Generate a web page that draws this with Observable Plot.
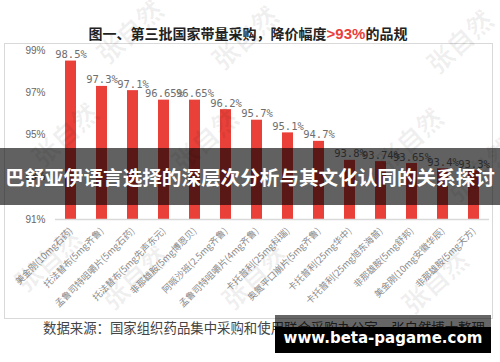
<!DOCTYPE html>
<html><head><meta charset="utf-8">
<script src="https://cdn.jsdelivr.net/npm/d3@7"></script>
<script src="https://cdn.jsdelivr.net/npm/@observablehq/plot@0.6"></script>
<style>
body{margin:0;background:#fff;}
#wrap{position:relative;width:500px;height:362px;overflow:hidden;font-family:"Noto Sans CJK SC","Noto Sans",sans-serif;}
#frame{position:absolute;left:4px;top:43px;width:487px;height:274px;border:1px solid #d9d9d9;}
#title{position:absolute;left:0;width:496px;top:23px;line-height:20px;text-align:center;font-size:14px;font-weight:bold;color:#222;white-space:nowrap;}
#title span{color:#e9403a;font-family:"Liberation Sans",sans-serif;font-size:15px;}
#chart{position:absolute;left:0;top:44px;}
#source{position:absolute;left:43px;top:317px;font-size:13.4px;line-height:20px;color:#444;white-space:nowrap;}
.wm{position:absolute;font-size:26px;font-weight:bold;color:rgba(0,0,0,0.06);transform:rotate(-42deg);white-space:nowrap;pointer-events:none;}
#banner{position:absolute;left:0;top:148px;width:500px;height:57px;background:rgba(0,0,0,0.62);color:#fff;font-weight:bold;font-size:19.6px;line-height:57px;text-align:center;white-space:nowrap;}
#siteTop{position:absolute;left:275px;top:315px;width:216px;height:12px;background:rgba(0,0,0,0.6);}
#site{position:absolute;left:275px;top:327px;width:216px;height:26px;background:#000;}
#siteText{position:absolute;left:275px;top:326px;width:216px;line-height:24px;text-align:center;color:#fff;font-family:"DejaVu Sans",sans-serif;font-weight:bold;font-size:15px;white-space:nowrap;}
</style></head><body>
<div id="wrap">
  <div id="frame"></div>
  <div id="title">图一、第三批国家带量采购，降价幅度<span>&gt;93%</span>的品规</div>
  <div id="chart"></div>
  <div id="source">数据来源：国家组织药品集中采购和使用联合采购办公室，张自然博士整理</div>
  <div class="wm" style="left:90px;top:12px;">张自然</div>
  <div class="wm" style="left:205px;top:18px;">张自然</div>
  <div class="wm" style="left:420px;top:22px;">张自然</div>
  <div class="wm" style="left:25px;top:115px;">张自然</div>
  <div class="wm" style="left:165px;top:120px;">张自然</div>
  <div class="wm" style="left:370px;top:120px;">张自然</div>
  <div class="wm" style="left:440px;top:150px;">张自然</div>
  <div class="wm" style="left:8px;top:240px;">张自然</div>
  <div class="wm" style="left:95px;top:258px;">张自然</div>
  <div class="wm" style="left:215px;top:258px;">张自然</div>
  <div class="wm" style="left:395px;top:262px;">张自然</div>
  <div id="banner">巴舒亚伊语言选择的深层次分析与其文化认同的关系探讨</div>
  <div id="siteTop"></div>
  <div id="site"></div>
  <div id="siteText">www.beta-pagame.com</div>
</div>
<script>
const categories = [
  "美金刚(10mg石药)",
  "托法替布(5mg齐鲁)",
  "孟鲁司特咀嚼片(5mg石药)",
  "托法替布(5mg先声东元)",
  "非那雄胺(5mg博恩贝)",
  "阿哌沙班(2.5mg齐鲁)",
  "孟鲁司特咀嚼片(4mg齐鲁)",
  "卡托普利(25mg科瑞)",
  "奥氮平口崩片(5mg齐鲁)",
  "卡托普利(25mg华中)",
  "卡托普利(25mg旭东海普)",
  "非那雄胺(5mg舒邦)",
  "美金刚(10mg安徽华辰)",
  "非那雄胺(5mg天方)"
];
const values = [98.5, 97.3, 97.1, 96.65, 96.65, 96.2, 95.7, 95.1, 94.7, 93.8, 93.74, 93.65, 93.4, 93.3];
const yTicks = [91, 93, 95, 97, 99];

const data = categories.map((name, i) => ({name, value: values[i]}));

const chart = Plot.plot({
  width: 500,
  height: 274,
  marginTop: 6,
  marginBottom: 99,
  marginLeft: 55,
  marginRight: 11,
  style: {background: "transparent", overflow: "visible"},
  x: {domain: categories, paddingInner: 0.645, paddingOuter: 0.32, label: null},
  y: {domain: [yTicks[0], yTicks[yTicks.length - 1]], label: null},
  marks: [
    Plot.axisY({ticks: yTicks, tickFormat: d => d + "%", tickSize: 0, tickPadding: 10, fontSize: 10, fill: "#666", fontFamily: "Liberation Sans, sans-serif"}),
    Plot.axisX({tickRotate: -45, tickSize: 0, tickPadding: 10, fontSize: 9.2, fill: "#8a8a8a", fontFamily: "Noto Sans CJK SC, sans-serif"}),
    Plot.barY(data, {x: "name", y1: yTicks[0], y2: "value", fill: "#e9403a"}),
    Plot.ruleY([yTicks[0]], {stroke: "#d9d9d9", strokeWidth: 1.5}),
    Plot.text(data, {x: "name", y: "value", text: d => d.value + "%", lineAnchor: "bottom", dy: -3, fontSize: 10.5, fill: "#6e6e6e", fontFamily: "DejaVu Sans Mono, monospace"})
  ]
});
document.getElementById("chart").appendChild(chart);
</script>
</body></html>
